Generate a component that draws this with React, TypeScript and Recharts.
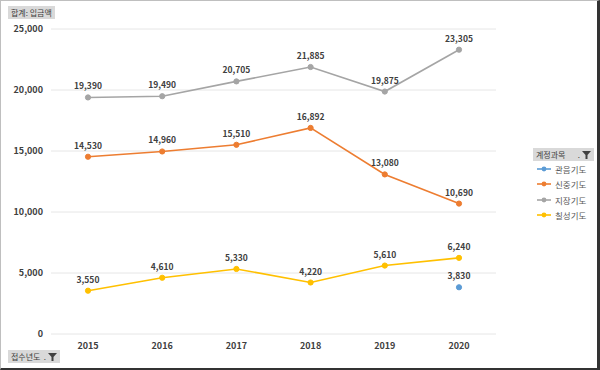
import React from "react";
import { LineChart, Line, XAxis, YAxis, CartesianGrid, LabelList } from "recharts";

const years = ["2015", "2016", "2017", "2018", "2019", "2020"];
const gwaneum = [null, null, null, null, null, 3830];
const sinjung = [14530, 14960, 15510, 16892, 13080, 10690];
const jijang = [19390, 19490, 20705, 21885, 19875, 23305];
const chilseong = [3550, 4610, 5330, 4220, 5610, 6240];
const yTicks = [0, 5000, 10000, 15000, 20000, 25000];

const seriesNames = ["관음기도", "신중기도", "지장기도", "칠성기도"];
const colors = ["#5B9BD5", "#ED7D31", "#A5A5A5", "#FFC000"];
const keys = ["g", "s", "j", "c"];

const data = years.map((y, i) => ({
  year: y,
  g: gwaneum[i],
  s: sinjung[i],
  j: jijang[i],
  c: chilseong[i],
}));

const fmt = (v: any) => (v == null ? "" : Number(v).toLocaleString("en-US"));
const FONT = "'Noto Sans CJK KR', 'Noto Sans', sans-serif";

const FilterIcon = () => (
  <svg width="9" height="8" style={{ marginLeft: 2 }}>
    <path d="M0 0 L9 0 L5.5 4 L5.5 8 L3.5 8 L3.5 4 Z" fill="#404040" />
  </svg>
);

const boxStyle: React.CSSProperties = {
  position: "absolute",
  background: "#d9d9d9",
  fontSize: 8,
  color: "#404040",
  fontFamily: FONT,
  display: "flex",
  alignItems: "center",
  padding: "0 3px",
  boxSizing: "border-box",
  height: 13,
  lineHeight: "13px",
};

export default function App() {
  return (
    <div
      style={{
        position: "fixed",
        left: 0,
        top: 0,
        width: 600,
        height: 370,
        background: "#fff",
        boxSizing: "border-box",
        borderTop: "1px solid #bfbfbf",
        borderLeft: "1px solid #bfbfbf",
        borderRight: "3px solid #333",
        borderBottom: "2px solid #333",
        overflow: "hidden",
      }}
    >
      <div style={{ position: "absolute", left: -1, top: -1 }}>
        <LineChart
          width={600}
          height={370}
          data={data}
          margin={{ top: 29, right: 104, bottom: 6, left: 0 }}
        >
          <CartesianGrid vertical={false} stroke="#e6e6e6" strokeWidth={1} />
          <XAxis
            dataKey="year"
            height={30}
            padding={{ left: 37, right: 37 }}
            axisLine={false}
            tickLine={false}
            tick={{ fill: "#404040", fontSize: 9, fontWeight: 700, fontFamily: FONT }}
            tickMargin={3}
          />
          <YAxis
            width={51}
            domain={[0, 25000]}
            ticks={yTicks}
            axisLine={false}
            tickLine={false}
            tickFormatter={fmt}
            tick={{ fill: "#404040", fontSize: 9, fontWeight: 700, fontFamily: FONT }}
            tickMargin={2}
          />
          {keys.map((k, i) => (
            <Line
              key={k}
              dataKey={k}
              name={seriesNames[i]}
              stroke={colors[i]}
              strokeWidth={1.6}
              dot={{ r: 2.6, fill: colors[i], stroke: colors[i], strokeWidth: 1 }}
              isAnimationActive={false}
            >
              <LabelList
                dataKey={k}
                position="top"
                offset={8}
                formatter={fmt}
                style={{ fill: "#404040", fontSize: 8.5, fontWeight: 700, fontFamily: FONT }}
              />
            </Line>
          ))}
        </LineChart>
      </div>
      <div style={{ ...boxStyle, left: 7, top: 5, width: 47 }}>합계: 입금액</div>
      <div style={{ ...boxStyle, left: 7, top: 349, width: 52, justifyContent: "space-between" }}>
        <span>접수년도</span>
        <span style={{ display: "flex", alignItems: "center" }}>
          .<FilterIcon />
        </span>
      </div>
      <div style={{ ...boxStyle, left: 532, top: 147, width: 61, justifyContent: "space-between" }}>
        <span>계정과목</span>
        <span style={{ display: "flex", alignItems: "center" }}>
          .<FilterIcon />
        </span>
      </div>
      {seriesNames.map((n, i) => (
        <div
          key={n}
          style={{
            position: "absolute",
            left: 535,
            top: 162 + i * 15.3,
            height: 12,
            display: "flex",
            alignItems: "center",
            fontFamily: FONT,
            fontSize: 8.5,
            color: "#595959",
          }}
        >
          <svg width="18" height="10">
            <line x1="1" y1="5" x2="15" y2="5" stroke={colors[i]} strokeWidth={1.6} />
            <circle cx="8" cy="5" r="2.4" fill={colors[i]} />
          </svg>
          <span style={{ marginLeft: 1 }}>{n}</span>
        </div>
      ))}
    </div>
  );
}
